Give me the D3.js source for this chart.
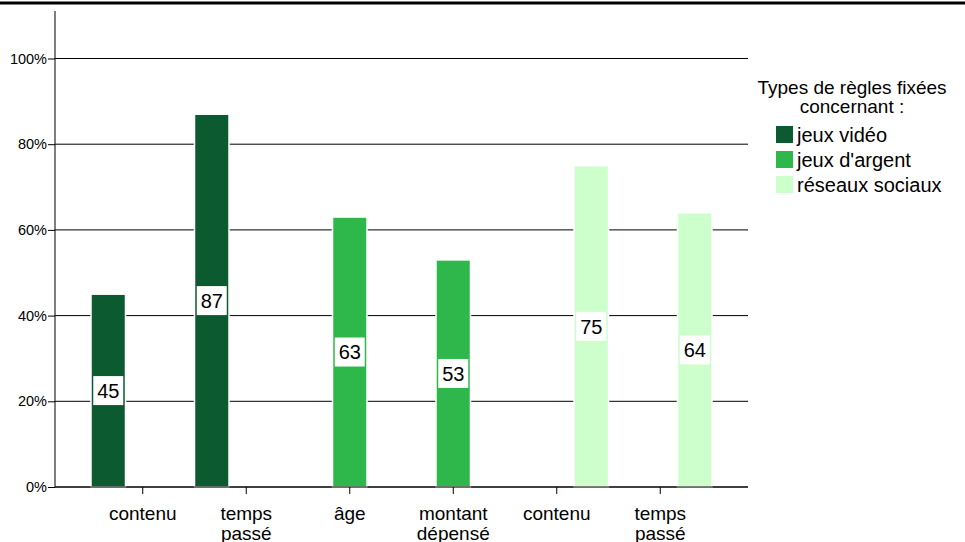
<!DOCTYPE html>
<html>
<head>
<meta charset="utf-8">
<script src="https://cdn.jsdelivr.net/npm/d3@7"></script>
<style>
  html, body { margin: 0; padding: 0; background: #fff; }
  svg { display: block; font-family: "Liberation Sans", Arial, sans-serif; }
</style>
</head>
<body>
<svg id="chart" width="965" height="542"></svg>
<script>
// Category keys along the x axis and their (multi-line) labels
const categories = ["contenu", "temps\npassé", "âge", "montant\ndépensé", "contenu2", "temps\npassé2"];
const categoryLabels = ["contenu", "temps\npassé", "âge", "montant\ndépensé", "contenu", "temps\npassé"];
// Series (types of rules) and their colours
const seriesNames = ["jeux vidéo", "jeux d'argent", "réseaux sociaux"];
const seriesColors = ["#0c5a30", "#2eb84b", "#ccffcc"];
// Percentage for each category, and which series it belongs to
const values = [45, 87, 63, 53, 75, 64];
const valueSeries = ["jeux vidéo", "jeux vidéo", "jeux d'argent", "jeux d'argent", "réseaux sociaux", "réseaux sociaux"];
const yTicks = [0, 20, 40, 60, 80, 100];

const svg = d3.select("#chart");

// Top frame line
svg.append("line")
  .attr("x1", 0).attr("x2", 965).attr("y1", 3).attr("y2", 3)
  .attr("stroke", "#000").attr("stroke-width", 3);

const y = d3.scaleLinear().domain([0, 100]).range([487, 58.5]);
const x0 = d3.scaleBand().domain(categories).range([91, 712]).padding(0);
const x1 = d3.scaleBand().domain(seriesNames).range([0, x0.bandwidth()]).padding(0);
const color = d3.scaleOrdinal().domain(seriesNames).range(seriesColors);

const axisLeftX = 55, plotRight = 748;

// Horizontal gridlines
svg.append("g").selectAll("line")
  .data(yTicks)
  .join("line")
  .attr("x1", axisLeftX).attr("x2", plotRight)
  .attr("y1", d => y(d)).attr("y2", d => y(d))
  .attr("stroke", "#000").attr("stroke-width", 1);

// Y axis
const yAxis = svg.append("g")
  .attr("transform", `translate(${axisLeftX},0)`)
  .call(d3.axisLeft(y).tickValues(yTicks).tickFormat(d => d + "%").tickSize(7).tickSizeOuter(0));
yAxis.select(".domain").remove();
yAxis.selectAll(".tick line").attr("stroke", "#000");
yAxis.selectAll(".tick text")
  .attr("x", -8)
  .attr("font-size", 14.5)
  .attr("font-family", "Liberation Sans, Arial, sans-serif")
  .attr("fill", "#000");
svg.append("line")
  .attr("x1", axisLeftX).attr("x2", axisLeftX)
  .attr("y1", 11).attr("y2", y(0))
  .attr("stroke", "#000").attr("stroke-width", 1);

// Bars
const data = categories.map((c, i) => ({ cat: c, series: valueSeries[i], value: values[i] }));
svg.append("g").selectAll("rect")
  .data(data)
  .join("rect")
  .attr("x", d => x0(d.cat) + x1(d.series))
  .attr("width", x1.bandwidth())
  .attr("y", d => y(d.value))
  .attr("height", d => y(0) - y(d.value))
  .attr("fill", d => color(d.series))
  .attr("stroke", "#fff").attr("stroke-width", 1.5);

// X axis
const xAxis = svg.append("g")
  .attr("transform", `translate(0,${y(0)})`)
  .call(d3.axisBottom(x0).tickSize(7).tickSizeOuter(0).tickFormat(() => ""));
xAxis.select(".domain").remove();
xAxis.selectAll(".tick line").attr("stroke", "#000");
svg.append("line")
  .attr("x1", axisLeftX).attr("x2", plotRight)
  .attr("y1", y(0)).attr("y2", y(0))
  .attr("stroke", "#000").attr("stroke-width", 1);
svg.append("g").selectAll("text")
  .data(categories)
  .join("text")
  .attr("x", d => x0(d) + x0.bandwidth() / 2)
  .attr("y", 520)
  .attr("text-anchor", "middle")
  .attr("font-size", 19)
  .attr("fill", "#000")
  .each(function (d, i) {
    const lines = categoryLabels[i].split("\n");
    d3.select(this).selectAll("tspan")
      .data(lines)
      .join("tspan")
      .attr("x", x0(d) + x0.bandwidth() / 2)
      .attr("dy", (l, j) => j === 0 ? 0 : 19.5)
      .text(l => l);
  });

// Value labels in white boxes at bar mid-height
const labels = svg.append("g").selectAll("g")
  .data(data)
  .join("g")
  .attr("transform", d => `translate(${x0(d.cat) + x1(d.series) + x1.bandwidth() / 2},${(y(0) + y(d.value)) / 2})`);
labels.append("rect")
  .attr("x", -15).attr("y", -14.5)
  .attr("width", 30).attr("height", 29)
  .attr("fill", "#fff");
labels.append("text")
  .attr("text-anchor", "middle")
  .attr("dy", "0.36em")
  .attr("font-size", 20)
  .attr("fill", "#000")
  .text(d => d.value);

// Legend
const legend = svg.append("g");
legend.append("text")
  .attr("x", 852).attr("y", 94)
  .attr("text-anchor", "middle")
  .attr("font-size", 19)
  .attr("fill", "#000")
  .selectAll("tspan")
  .data(["Types de règles fixées", "concernant :"])
  .join("tspan")
  .attr("x", 852)
  .attr("dy", (d, i) => i === 0 ? 0 : 19)
  .text(d => d);
const items = legend.selectAll("g.item")
  .data(seriesNames)
  .join("g")
  .attr("class", "item")
  .attr("transform", (d, i) => `translate(776,${126 + i * 25})`);
items.append("rect")
  .attr("width", 17).attr("height", 17)
  .attr("fill", d => color(d));
items.append("text")
  .attr("x", 21).attr("y", 15.5)
  .attr("font-size", 20)
  .attr("fill", "#000")
  .text(d => d);
</script>
</body>
</html>
